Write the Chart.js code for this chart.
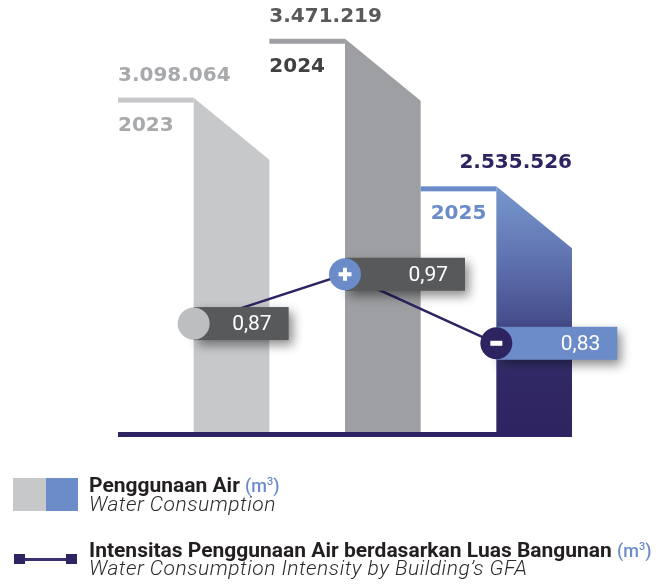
<!DOCTYPE html>
<html>
<head>
<meta charset="utf-8">
<script src="https://cdn.jsdelivr.net/npm/chart.js@4.4.1/dist/chart.umd.min.js"></script>
<style>
  html, body { margin:0; padding:0; background:#ffffff; }
  #wrap { position:relative; width:669px; height:585px; overflow:hidden; }
  #chart { position:absolute; left:0; top:0; }
  .lg { position:absolute; white-space:nowrap; color:#231f20; }
  .b { font-family:Roboto, "Liberation Sans", sans-serif; font-weight:700; font-size:21px; line-height:21px; }
  .it { font-family:Roboto, "Liberation Sans", sans-serif; font-weight:300; font-style:italic; font-size:21px; line-height:21px; letter-spacing:0.5px; color:#2b2a2c; }
  .u { font-weight:500; color:#6b8cc8; font-size:18px; }
  .u sup { font-size:11px; vertical-align:7px; line-height:0; }
</style>
</head>
<body>
<div id="wrap">
  <canvas id="chart" width="669" height="585"></canvas>

  <div style="position:absolute;left:13px;top:478px;width:33px;height:33px;background:#c7c8ca;"></div>
  <div style="position:absolute;left:46px;top:478px;width:32px;height:33px;background:#6b8cc8;"></div>
  <div class="lg b" style="left:89px;top:475px;">Penggunaan Air <span class="u">(m<sup>3</sup>)</span></div>
  <div class="lg it" style="left:89px;top:494px;">Water Consumption</div>

  <div style="position:absolute;left:14px;top:554px;width:11px;height:10px;background:#2e2461;"></div>
  <div style="position:absolute;left:25px;top:558px;width:41px;height:3px;background:#3a3270;"></div>
  <div style="position:absolute;left:66px;top:554px;width:11px;height:10px;background:#2e2461;"></div>
  <div class="lg b" style="left:89px;top:540px;">Intensitas Penggunaan Air berdasarkan Luas Bangunan <span class="u">(m<sup>3</sup>)</span></div>
  <div class="lg it" style="left:89px;top:558px;">Water Consumption Intensity by Building’s GFA</div>
</div>

<script>
// ---- data ----
const categories = ['2023', '2024', '2025'];
const waterConsumption = [3098064, 3471219, 2535526];   // m3
const intensity = [0.87, 0.97, 0.83];                    // m3 per GFA

// ---- styles ----
const NAVY = '#2e2461';
const BLUE = '#6b8cc8';
const bodyColors = ['#c7c8ca', '#9d9fa2', null];
const topColors = ['#c7c8ca', '#9d9fa2', BLUE];
const valueColors = ['#a7a9ac', '#58595b', NAVY];
const yearColors = ['#a7a9ac', '#414042', BLUE];
const pointColors = ['#bcbec0', BLUE, NAVY];
const boxColors = ['#58595b', '#58595b', BLUE];
const boxWidths = [95, 120, 121];

const Y_MIN = 978000, Y_MAX = 3615600;

const fmtThousands = v => String(v).replace(/\B(?=(\d{3})+(?!\d))/g, '.');
const fmtDec = v => v.toFixed(2).replace('.', ',');

const infographic = {
  id: 'infographic',
  afterDatasetDraw(chart, args) {
    const ctx = chart.ctx;
    const ca = chart.chartArea;
    if (args.index === 0) {
      const meta = chart.getDatasetMeta(0);
      meta.data.forEach((bar, i) => {
        const p = bar.getProps(['x', 'y', 'base', 'width'], true);
        const base = Math.min(p.base, ca.bottom);
        const left = p.x - p.width / 2, right = p.x + p.width / 2;
        ctx.save();
        // top ledge
        ctx.fillStyle = topColors[i];
        ctx.fillRect(left, p.y, p.x - left, 5);
        // body with chamfer
        let fill = bodyColors[i];
        if (!fill) {
          const g = ctx.createLinearGradient(0, p.y, 0, base);
          g.addColorStop(0, '#7898cd');
          g.addColorStop(0.3, '#5f72b0');
          g.addColorStop(0.55, '#474e8c');
          g.addColorStop(0.78, '#312866');
          g.addColorStop(1, NAVY);
          fill = g;
        }
        ctx.fillStyle = fill;
        ctx.beginPath();
        ctx.moveTo(p.x, p.y);
        ctx.lineTo(right, p.y + 62);
        ctx.lineTo(right, base);
        ctx.lineTo(p.x, base);
        ctx.closePath();
        ctx.fill();
        // labels
        ctx.font = 'bold 20px "DejaVu Sans"';
        ctx.textBaseline = 'alphabetic';
        ctx.fillStyle = valueColors[i];
        if (i === 2) {
          ctx.textAlign = 'right';
          ctx.fillText(fmtThousands(waterConsumption[i]), right, p.y - 18);
        } else {
          ctx.textAlign = 'left';
          ctx.fillText(fmtThousands(waterConsumption[i]), left, p.y - 17);
        }
        ctx.textAlign = 'left';
        ctx.fillStyle = yearColors[i];
        ctx.fillText(categories[i], left + (i === 2 ? 10 : 0), p.y + 33);
        ctx.restore();
      });
      ctx.save();
      ctx.fillStyle = NAVY;
      ctx.fillRect(ca.left, ca.bottom, ca.right - ca.left, 5);
      ctx.restore();
    }
    if (args.index === 1) {
      const meta = chart.getDatasetMeta(1);
      meta.data.forEach((pt, i) => {
        const x = pt.x, y = pt.y;
        ctx.save();
        ctx.shadowColor = 'rgba(0,0,0,0.45)';
        ctx.shadowBlur = 10;
        ctx.shadowOffsetX = 4;
        ctx.shadowOffsetY = 5;
        ctx.fillStyle = boxColors[i];
        ctx.fillRect(x, y - 16.5, boxWidths[i], 33);
        ctx.restore();
        ctx.save();
        ctx.fillStyle = '#ffffff';
        ctx.font = '21px Roboto';
        ctx.textAlign = 'right';
        ctx.textBaseline = 'middle';
        ctx.fillText(fmtDec(intensity[i]), x + boxWidths[i] - 17, y + 1);
        ctx.restore();
      });
    }
  },
  afterDatasetsDraw(chart) {
    const ctx = chart.ctx;
    const meta = chart.getDatasetMeta(2);
    meta.data.forEach((pt, i) => {
      if (i === 0) return;
      ctx.save();
      ctx.fillStyle = '#ffffff';
      if (intensity[i] > intensity[i - 1]) {
        ctx.fillRect(pt.x - 6.5, pt.y - 2, 13, 4);
        ctx.fillRect(pt.x - 2, pt.y - 6.5, 4, 13);
      } else {
        ctx.fillRect(pt.x - 6, pt.y - 2.5, 12, 5);
      }
      ctx.restore();
    });
  }
};

new Chart(document.getElementById('chart'), {
  type: 'bar',
  data: {
    labels: categories,
    datasets: [
      {
        type: 'bar',
        label: 'Penggunaan Air',
        data: waterConsumption,
        yAxisID: 'y',
        base: Y_MIN,
        backgroundColor: 'rgba(0,0,0,0)',
        borderWidth: 0,
        categoryPercentage: 1,
        barPercentage: 1,
        order: 3
      },
      {
        type: 'line',
        label: 'Intensitas',
        data: intensity,
        yAxisID: 'y2',
        borderColor: NAVY,
        borderWidth: 2.5,
        pointRadius: 0,
        tension: 0,
        clip: false,
        order: 2
      },
      {
        type: 'line',
        label: 'Intensitas points',
        data: intensity,
        yAxisID: 'y2',
        showLine: false,
        pointRadius: 16,
        pointHoverRadius: 16,
        pointBorderWidth: 0,
        pointBackgroundColor: pointColors,
        clip: false,
        order: 1
      }
    ]
  },
  options: {
    responsive: false,
    animation: false,
    events: [],
    layout: { padding: { top: 10, bottom: 153, left: 118, right: 97 } },
    plugins: { legend: { display: false }, tooltip: { enabled: false } },
    scales: {
      x: { display: false, offset: true, grid: { display: false } },
      y: { display: false, min: Y_MIN, max: Y_MAX },
      y2: { display: false, min: 0.65, max: 1.494 }
    }
  },
  plugins: [infographic]
});
</script>
</body>
</html>
